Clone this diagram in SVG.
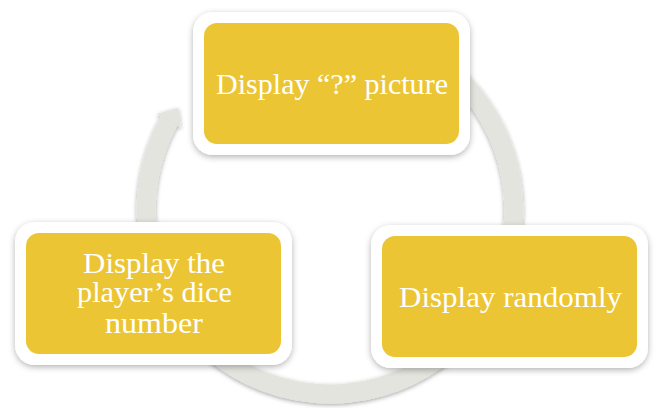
<svg xmlns="http://www.w3.org/2000/svg" width="657" height="408" viewBox="0 0 657 408">
  <defs>
    <filter id="ringShadow" x="-10%" y="-10%" width="120%" height="120%">
      <feDropShadow dx="0" dy="1.5" stdDeviation="2.2" flood-color="#000" flood-opacity="0.35"/>
    </filter>
    <filter id="nodeShadow" x="-10%" y="-15%" width="120%" height="130%">
      <feDropShadow dx="0" dy="2" stdDeviation="3" flood-color="#000" flood-opacity="0.3"/>
    </filter>
  </defs>
  <style>
    .ring { fill: none; stroke: #e4e4df; stroke-width: 19; stroke-linecap: butt; }
    .head { fill: #e4e4df; }
    .outer { fill: #ffffff; filter: url(#nodeShadow); }
    .inner { fill: #ecc535; }
    .label { font-family: "Liberation Serif", "DejaVu Serif", serif; font-size: 30px; fill: #ffffff; text-anchor: middle; }
    .small { font-size: 29px; }
  </style>
  <rect width="657" height="408" fill="#ffffff"/>
  <g id="connectors" filter="url(#ringShadow)">
    <path class="ring" d="M 267.1 37.1 A 184 184 0 0 1 448.3 350.9 A 184 184 0 0 1 169.1 120.8"/>
    <polygon class="head" points="156.8,114.1 178.3,107.7 180.9,128.1 177.4,125.4 160.8,116.2"/>
  </g>
  <g id="node-top">
    <rect class="outer" x="193" y="12" width="277" height="143" rx="20"/>
    <rect class="inner" x="204" y="23" width="255" height="121" rx="13"/>
    <text class="label" x="332" y="94" textLength="232" lengthAdjust="spacingAndGlyphs">Display “?” picture</text>
  </g>
  <g id="node-right">
    <rect class="outer" x="371" y="225" width="277" height="143" rx="20"/>
    <rect class="inner" x="382" y="236" width="255" height="121" rx="13"/>
    <text class="label" x="510.5" y="306.5" textLength="223" lengthAdjust="spacingAndGlyphs">Display randomly</text>
  </g>
  <g id="node-left">
    <rect class="outer" x="15" y="222" width="277" height="143" rx="20"/>
    <rect class="inner" x="26" y="233" width="255" height="121" rx="13"/>
    <text class="label small" x="154" y="272.5" textLength="142" lengthAdjust="spacingAndGlyphs">Display the</text>
    <text class="label small" x="154.5" y="302" textLength="155" lengthAdjust="spacingAndGlyphs">player’s dice</text>
    <text class="label small" x="154" y="332.5" textLength="98" lengthAdjust="spacingAndGlyphs">number</text>
  </g>
</svg>
